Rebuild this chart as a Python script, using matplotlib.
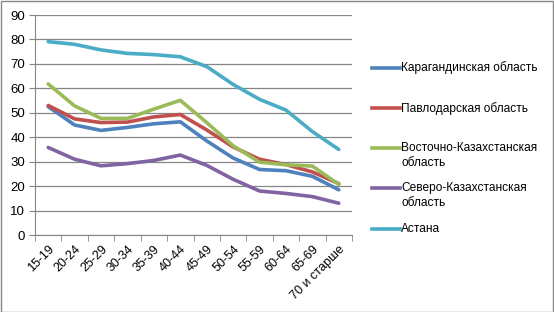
import matplotlib
matplotlib.use('Agg')
import matplotlib.pyplot as plt
from matplotlib.lines import Line2D
from matplotlib.patches import Rectangle

plt.rcParams['font.family'] = ['Liberation Sans', 'DejaVu Sans']

# возрастные группы
ages = ['15-19', '20-24', '25-29', '30-34', '35-39', '40-44', '45-49',
        '50-54', '55-59', '60-64', '65-69', '70 и старше']

karaganda = [52.5, 45, 42.8, 44, 45.5, 46.3, 38.5, 31.5, 26.8, 26.3, 24, 18.5]
pavlodar = [53, 47.5, 46, 46.2, 48.3, 49.3, 43, 36, 31, 28.8, 25.8, 21]
vostok = [61.8, 52.8, 47.7, 47.7, 51.5, 55.1, 46, 36.5, 29.8, 28.7, 28.2, 20.7]
sever = [35.8, 31, 28.3, 29.2, 30.5, 32.7, 28.5, 22.8, 18, 17, 15.7, 13]
astana = [79.1, 78, 75.7, 74.3, 73.8, 72.9, 68.9, 61.6, 55.5, 51.1, 42.3, 35]

series = [
    (karaganda, '#4F81BD', 'Карагандинская область'),
    (pavlodar, '#C0504D', 'Павлодарская область'),
    (vostok, '#9BBB59', 'Восточно-Казахстанская\nобласть'),
    (sever, '#8064A2', 'Северо-Казахстанская\nобласть'),
    (astana, '#4BACC6', 'Астана'),
]

W, H = 554, 312
fig = plt.figure(figsize=(W / 100, H / 100), dpi=100)
ax = fig.add_axes([35 / W, (H - 235) / H, (352 - 35) / W, 220 / H])

x = list(range(len(ages)))
for vals, col, lab in series:
    ax.plot(x, vals, color=col, lw=2.6, solid_capstyle='round')

ax.set_xlim(-0.5, len(ages) - 0.5)
ax.set_ylim(0, 90)
ax.set_yticks(range(0, 91, 10))
ax.yaxis.grid(True, color='#868686', lw=0.9)
ax.set_axisbelow(True)

ax.set_xticks(x)
ax.set_xticklabels(ages, rotation=45, ha='right', rotation_mode='anchor', fontsize=9)
ax.tick_params(axis='x', which='major', length=0, pad=6)
ax.set_xticks([i - 0.5 for i in range(len(ages) + 1)], minor=True)
ax.tick_params(axis='x', which='minor', length=4, color='#868686', direction='out')
ax.tick_params(axis='y', length=4, color='#868686', labelsize=9.5, pad=3)

for s in ['top', 'right']:
    ax.spines[s].set_visible(False)
for s in ['left', 'bottom']:
    ax.spines[s].set_color('#868686')

# легенда справа
ys = [67.5, 108, 148, 188, 229]
for (vals, col, lab), yy in zip(series, ys):
    fy = 1 - yy / H
    fig.add_artist(Line2D([372 / W, 400 / W], [fy, fy], color=col, lw=2.6))
    fig.text(401 / W, fy + 6 / H, lab, fontsize=8.6, va='top', ha='left',
             linespacing=1.35)

fig.add_artist(Rectangle((0.5 / W, 0.5 / H), 1 - 1.5 / W, 1 - 1.5 / H,
                         transform=fig.transFigure, fill=False,
                         edgecolor='#868686', lw=1))

fig.savefig('out.png', dpi=100)
